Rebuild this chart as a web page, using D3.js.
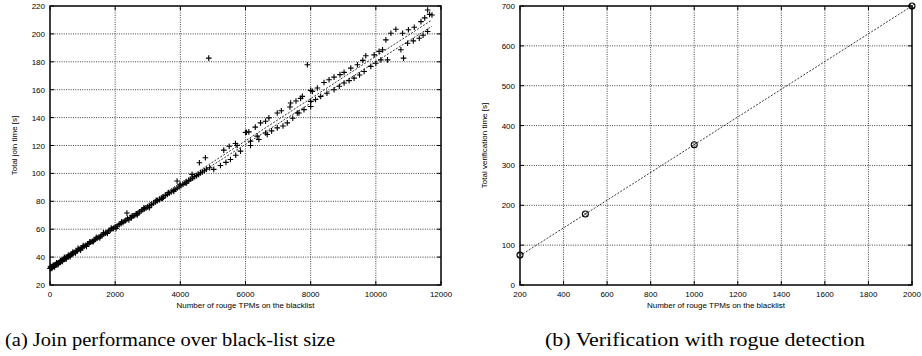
<!DOCTYPE html>
<html>
<head>
<meta charset="utf-8">
<script src="https://cdn.jsdelivr.net/npm/d3@7"></script>
<style>
  html, body { margin: 0; padding: 0; background: #fff; }
  svg text.tick { font-family: "Liberation Sans", Arial, sans-serif; font-size: 8px; fill: #000; }
  svg text.label { font-family: "Liberation Sans", Arial, sans-serif; font-size: 8px; fill: #000; }
  svg text.caption { font-family: "Liberation Serif", "DejaVu Serif", serif; font-size: 19px; fill: #000; }
</style>
</head>
<body>
<svg id="viz"></svg>
<script>
// ----------------------------------------------------------------------------------------------------------------
// DATA

// (a) rogue TPMs on the blacklist vs. total join time [s]
var joinSamples = [
  [0,31.8],[15,32.4],[30,32.1],[45,32.8],[60,32.6],[75,33.2],[90,33.0],[110,33.5],[130,33.9],[150,34.1],
  [170,34.6],[190,34.4],[210,35.0],[235,35.4],[260,35.7],[285,36.3],[310,36.6],[335,36.9],[360,37.5],[390,37.8],
  [420,38.4],[450,38.9],[480,39.1],[510,39.8],[540,40.2],[570,40.5],[600,41.2],[630,41.4],[660,42.0],[690,42.6],
  [720,42.9],[760,43.4],[800,44.1],[840,44.6],[880,45.4],[920,45.8],[960,46.5],[1000,47.1],[1050,47.6],[1100,48.5],
  [1150,49.3],[1200,49.8],[1250,50.7],[1300,51.3],[1350,52.2],[1400,52.8],[1450,53.6],[1500,54.3],[1550,54.9],
  [1600,55.8],[1650,56.4],[1700,57.2],[1750,57.8],[1800,58.7],[1850,59.3],[1900,60.1],[1950,60.6],[2000,61.5],
  [2060,62.2],[2120,63.3],[2180,64.0],[2240,64.9],[2300,65.8],[2360,71.6],[2380,67.8],[2420,66.7],[2460,68.4],
  [2500,68.3],[2550,69.4],[2600,69.8],[2650,71.0],[2700,71.4],[2750,72.5],[2800,73.1],[2850,73.9],[2900,74.6],
  [2950,75.3],[3000,75.9],[3060,76.9],[3120,77.8],[3180,78.6],[3240,79.5],[3300,80.5],[3360,81.2],[3420,82.3],
  [3480,83.0],[3540,84.1],[3600,84.9],[3660,85.8],[3720,86.7],[3780,87.7],[3840,88.5],[3900,94.5],[3900,89.4],
  [3960,90.3],[4020,91.2],[4080,92.0],[4140,93.1],[4200,94.0],[4260,94.8],[4360,99.3],[4320,95.9],[4380,96.6],
  [4440,97.7],[4500,98.4],[4585,107.6],[4560,99.2],[4620,100.4],[4680,101.0],[4769,111.2],[4740,101.9],[4800,103.0],
  [4872,182.6],[4900,104.0],[7898,177.9],
  // band scatter below 4000
  [20,33.4],[55,31.9],[95,34.2],[140,33.0],[200,36.0],[250,34.6],[320,37.6],[380,36.8],[440,39.9],[500,38.7],
  [560,41.5],[620,40.3],[700,43.7],[780,42.9],[860,46.3],[940,45.0],[1020,48.2],[1120,47.6],[1220,51.0],[1330,51.0],
  [1420,54.2],[1530,53.8],[1640,57.4],[1760,56.9],[1880,60.9],[2030,60.5],[2200,65.3],[2330,66.4],[2520,69.6],
  [2680,70.3],[2880,75.4],[3050,75.5],[3260,80.8],[3450,82.0],[3630,86.3],[3800,87.0],[3990,92.2],[4180,93.0],
  // upper branch
  [5333,116.7],[5500,119.5],[5692,121.4],[6000,129.3],[6031,129.5],[6103,129.8],[6300,133.2],[6462,136.2],
  [6615,137.4],[6718,139.8],[6975,143.3],[7100,144.9],[7364,147.6],[7385,150.5],[7550,151.9],[7692,153.8],
  [7744,155.2],[8000,159.5],[8051,158.8],[8205,161.2],[8410,165.2],[8564,167.1],[8718,169.0],[8900,170.8],
  [9026,172.4],[9231,175.5],[9436,177.9],[9600,181.0],[9692,184.3],[9949,185.0],[10100,187.5],[10205,188.6],
  [10308,195.7],[10462,200.5],[10615,203.3],[10821,200.5],[11000,203.0],[11179,204.8],[11385,208.8],[11500,211.5],
  [11590,217.1],[11723,213.6],[11650,214.0],
  // lower branch
  [5026,102.9],[5231,105.7],[5400,107.9],[5538,110.0],[5700,113.0],[5846,116.0],[5744,120.0],[6154,120.0],
  [6154,123.1],[6359,126.7],[6410,124.3],[6615,129.0],[6667,127.9],[6800,130.5],[6975,132.6],[7150,134.0],
  [7282,136.2],[7450,139.5],[7590,143.3],[7641,143.3],[7795,145.7],[8000,148.0],[8000,151.6],[8150,153.0],
  [8308,155.2],[8500,157.5],[8718,160.0],[8880,162.5],[9026,164.8],[9180,166.5],[9333,168.3],[9500,170.5],
  [9641,173.1],[9846,176.7],[10000,179.0],[10154,181.4],[10359,181.4],[10769,188.6],[10851,182.6],[10974,193.3],
  [11150,195.0],[11333,196.9],[11450,199.0],[11590,201.7]
];

// (a) fitted lines
var joinFits = [
  [[0, 32.5], [11720, 210.0]],
  [[0, 32.0], [11720, 205.5]]
];

// (b) rogue TPMs vs. total verification time [s]
var verifyRogues = [200, 500, 1000, 2000];
var verifyTimes = [75, 178, 352, 700];
var verifyFit = [[200, 73.6], [2000, 700]];

// ticks
var xTicksA = [0, 2000, 4000, 6000, 8000, 10000, 12000];
var yTicksA = [20, 40, 60, 80, 100, 120, 140, 160, 180, 200, 220];
var xTicksB = [200, 400, 600, 800, 1000, 1200, 1400, 1600, 1800, 2000];
var yTicksB = [0, 100, 200, 300, 400, 500, 600, 700];

// texts
var xLabel = "Number of rouge TPMs on the blacklist";
var yLabelA = "Total join time [s]";
var yLabelB = "Total verification time [s]";
var captionA = "(a) Join performance over black-list size";
var captionB = "(b) Verification with rogue detection";


// ----------------------------------------------------------------------------------------------------------------
// INITIAL SETUP

var w = 922;
var h = 356;
var viz = d3.select("#viz").attr("width", w).attr("height", h);


// ----------------------------------------------------------------------------------------------------------------
// PANEL FRAME, GRID, TICKS

function drawFrame(g, x, y, xTicks, yTicks, yLab, labX) {
  var x0 = x.range()[0], x1 = x.range()[1];
  var y0 = y.range()[0], y1 = y.range()[1];

  // dotted grid (inner ticks only)
  g.selectAll("line.vgrid")
    .data(xTicks.slice(1, -1))
    .enter().append("line")
    .attr("x1", function(d) { return x(d); })
    .attr("x2", function(d) { return x(d); })
    .attr("y1", y0).attr("y2", y1)
    .attr("stroke", "#444").attr("stroke-width", 1)
    .attr("stroke-dasharray", "1,1.3");

  g.selectAll("line.hgrid")
    .data(yTicks.slice(1, -1))
    .enter().append("line")
    .attr("y1", function(d) { return y(d); })
    .attr("y2", function(d) { return y(d); })
    .attr("x1", x0).attr("x2", x1)
    .attr("stroke", "#444").attr("stroke-width", 1)
    .attr("stroke-dasharray", "1,1.3");

  // inward ticks on all four sides
  xTicks.forEach(function(d) {
    g.append("line").attr("x1", x(d)).attr("x2", x(d)).attr("y1", y0).attr("y2", y0 - 4)
      .attr("stroke", "#000");
    g.append("line").attr("x1", x(d)).attr("x2", x(d)).attr("y1", y1).attr("y2", y1 + 4)
      .attr("stroke", "#000");
  });
  yTicks.forEach(function(d) {
    g.append("line").attr("x1", x0).attr("x2", x0 + 4).attr("y1", y(d)).attr("y2", y(d))
      .attr("stroke", "#000");
    g.append("line").attr("x1", x1).attr("x2", x1 - 4).attr("y1", y(d)).attr("y2", y(d))
      .attr("stroke", "#000");
  });

  // frame
  g.append("rect")
    .attr("x", x0).attr("y", y1)
    .attr("width", x1 - x0).attr("height", y0 - y1)
    .attr("fill", "none").attr("stroke", "#000").attr("stroke-width", 1.5);

  // tick labels
  g.selectAll("text.xt")
    .data(xTicks)
    .enter().append("text")
    .attr("class", "tick")
    .attr("x", function(d) { return x(d); })
    .attr("y", y0 + 12)
    .attr("text-anchor", "middle")
    .text(function(d) { return d; });

  g.selectAll("text.yt")
    .data(yTicks)
    .enter().append("text")
    .attr("class", "tick")
    .attr("x", x0 - 5)
    .attr("y", function(d) { return y(d) + 3; })
    .attr("text-anchor", "end")
    .text(function(d) { return d; });

  // axis labels
  g.append("text")
    .attr("class", "label")
    .attr("x", (x0 + x1) / 2)
    .attr("y", y0 + 23)
    .attr("text-anchor", "middle")
    .text(xLabel);

  g.append("text")
    .attr("class", "label")
    .attr("transform", "translate(" + labX + "," + ((y0 + y1) / 2) + ") rotate(-90)")
    .attr("text-anchor", "middle")
    .text(yLab);
}


// ----------------------------------------------------------------------------------------------------------------
// CHART (a)

var xA = d3.scaleLinear().domain([0, 12000]).range([50, 441]);
var yA = d3.scaleLinear().domain([20, 220]).range([285, 6]);
var gA = viz.append("g");

drawFrame(gA, xA, yA, xTicksA, yTicksA, yLabelA, 17);

var lineA = d3.line()
  .x(function(d) { return xA(d[0]); })
  .y(function(d) { return yA(d[1]); });

gA.selectAll("path.fit")
  .data(joinFits)
  .enter().append("path")
  .attr("d", lineA)
  .attr("fill", "none")
  .attr("stroke", "#222")
  .attr("stroke-width", 0.9)
  .attr("stroke-dasharray", "2,1.5");

// plus markers
gA.selectAll("path.pt")
  .data(joinSamples)
  .enter().append("path")
  .attr("d", function(d) {
    var px = xA(d[0]), py = yA(d[1]), s = 2.8;
    return "M" + (px - s) + "," + py + "H" + (px + s) + "M" + px + "," + (py - s) + "V" + (py + s);
  })
  .attr("stroke", "#000")
  .attr("stroke-width", 1.1);


// ----------------------------------------------------------------------------------------------------------------
// CHART (b)

var xB = d3.scaleLinear().domain([200, 2000]).range([520, 912]);
var yB = d3.scaleLinear().domain([0, 700]).range([285, 6]);
var gB = viz.append("g");

drawFrame(gB, xB, yB, xTicksB, yTicksB, yLabelB, 487);

gB.append("path")
  .datum(verifyFit)
  .attr("d", d3.line()
    .x(function(d) { return xB(d[0]); })
    .y(function(d) { return yB(d[1]); }))
  .attr("fill", "none")
  .attr("stroke", "#222")
  .attr("stroke-width", 0.9)
  .attr("stroke-dasharray", "2,1.5");

var markB = gB.selectAll("g.mark")
  .data(verifyRogues)
  .enter().append("g")
  .attr("transform", function(d, i) {
    return "translate(" + xB(d) + "," + yB(verifyTimes[i]) + ")";
  });

markB.append("circle")
  .attr("r", 3)
  .attr("fill", "none")
  .attr("stroke", "#000")
  .attr("stroke-width", 1.1);

markB.append("path")
  .attr("d", "M-2,-2L2,2M-2,2L2,-2")
  .attr("stroke", "#333")
  .attr("stroke-width", 0.8);


// ----------------------------------------------------------------------------------------------------------------
// CAPTIONS

viz.append("text")
  .attr("class", "caption")
  .attr("x", 5).attr("y", 346)
  .attr("textLength", 330)
  .attr("lengthAdjust", "spacingAndGlyphs")
  .text(captionA);

viz.append("text")
  .attr("class", "caption")
  .attr("x", 545).attr("y", 346)
  .attr("textLength", 320)
  .attr("lengthAdjust", "spacingAndGlyphs")
  .text(captionB);
</script>
</body>
</html>
